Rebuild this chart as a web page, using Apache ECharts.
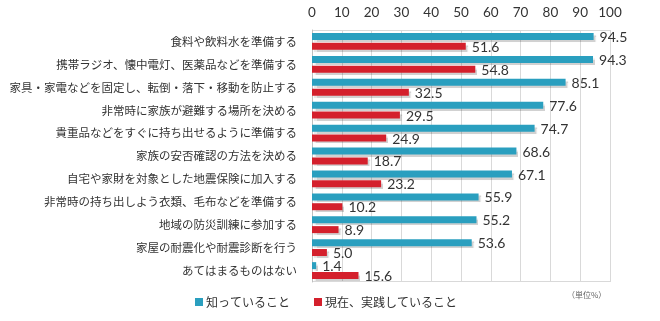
<!DOCTYPE html>
<html><head><meta charset="utf-8">
<script src="https://cdn.jsdelivr.net/npm/echarts@6/dist/echarts.min.js"></script>
<style>html,body{margin:0;padding:0;background:#fff}#c{width:660px;height:321px}</style>
</head><body><div id="c"></div>
<script>
const categories = [
  "食料や飲料水を準備する",
  "携帯ラジオ、懐中電灯、医薬品などを準備する",
  "家具・家電などを固定し、転倒・落下・移動を防止する",
  "非常時に家族が避難する場所を決める",
  "貴重品などをすぐに持ち出せるように準備する",
  "家族の安否確認の方法を決める",
  "自宅や家財を対象とした地震保険に加入する",
  "非常時の持ち出しよう衣類、毛布などを準備する",
  "地域の防災訓練に参加する",
  "家屋の耐震化や耐震診断を行う",
  "あてはまるものはない"
];
const knowValues = [94.5, 94.3, 85.1, 77.6, 74.7, 68.6, 67.1, 55.9, 55.2, 53.6, 1.4];
const practiceValues = [51.6, 54.8, 32.5, 29.5, 24.9, 18.7, 23.2, 10.2, 8.9, 5.0, 15.6];
const seriesNames = ["知っていること", "現在、実践していること"];

const font = "'Noto Sans CJK JP', sans-serif";
const chart = echarts.init(document.getElementById('c'), null, {renderer: 'canvas'});
const barStyle = (color) => ({
  color: color,
  shadowColor: 'rgba(0,0,0,0.18)',
  shadowOffsetX: 2,
  shadowOffsetY: 2,
  shadowBlur: 1
});
const labelStyle = {
  show: true, position: 'right', distance: 6, offset: [0, 1],
  color: '#333', fontSize: 14, fontFamily: 'Lato, sans-serif',
  formatter: p => p.value.toFixed(1)
};
chart.setOption({
  animation: false,
  grid: {left: 312, top: 30, width: 298, height: 252, containLabel: false},
  xAxis: {
    type: 'value', position: 'top', min: 0, max: 100, interval: 10,
    axisLine: {show: false}, axisTick: {show: false},
    axisLabel: {color: '#333', fontSize: 13.5, fontFamily: 'Lato, sans-serif', margin: 10},
    splitLine: {show: true, lineStyle: {color: '#d9d9d9', width: 1}}
  },
  yAxis: {
    type: 'category', data: categories, inverse: true,
    axisLine: {show: true, lineStyle: {color: '#bfbfbf'}},
    axisTick: {show: false},
    axisLabel: {color: '#333', fontSize: 11.5, fontFamily: font, margin: 15}
  },
  legend: {
    bottom: 8, left: 190, itemWidth: 8, itemHeight: 8, itemGap: 24,
    icon: 'rect',
    textStyle: {color: '#333', fontSize: 12, fontFamily: font, padding: [0,0,0,-2]},
    data: seriesNames
  },
  graphic: [
    {type: 'text', left: 567, top: 291, style: {text: '（単位%）', fill: '#666', fontSize: 8, fontFamily: font}},
    {type: 'line', shape: {x1: 312, y1: 30.5, x2: 610, y2: 30.5}, style: {stroke: '#d9d9d9', lineWidth: 1}, silent: true},
    {type: 'line', shape: {x1: 312, y1: 281.5, x2: 610, y2: 281.5}, style: {stroke: '#d9d9d9', lineWidth: 1}, silent: true}
  ],
  series: [
    {name: seriesNames[0], type: 'bar', data: knowValues, barWidth: 7, barGap: '40%',
     itemStyle: barStyle('#2a9fbf'), label: labelStyle},
    {name: seriesNames[1], type: 'bar', data: practiceValues, barWidth: 7,
     itemStyle: barStyle('#d4202c'), label: labelStyle}
  ]
});
</script></body></html>
